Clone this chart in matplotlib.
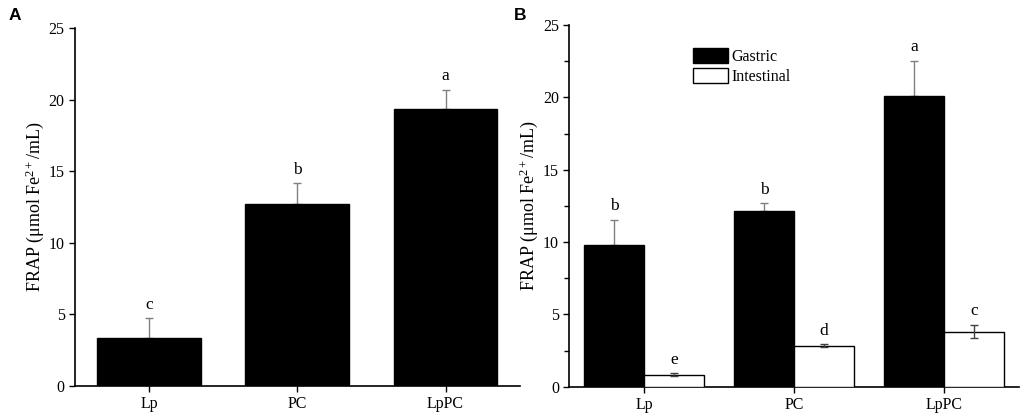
import numpy as np
import matplotlib.pyplot as plt
from matplotlib.patches import Patch
from matplotlib.ticker import MultipleLocator

plt.rcParams['font.family'] = ['Liberation Serif', 'DejaVu Serif']
plt.rcParams['mathtext.fontset'] = 'custom'
plt.rcParams['mathtext.rm'] = 'Liberation Serif'
plt.rcParams['mathtext.it'] = 'Liberation Serif:italic'

# data
groups = ['Lp', 'PC', 'LpPC']

a_values = [3.37, 12.73, 19.32]
a_errors = [1.35, 1.42, 1.37]
a_letters = ['c', 'b', 'a']

gastric = [9.79, 12.16, 20.09]
gastric_err = [1.73, 0.51, 2.42]
gastric_letters = ['b', 'b', 'a']

intestinal = [0.83, 2.83, 3.80]
intestinal_err = [0.09, 0.10, 0.46]
intestinal_letters = ['e', 'd', 'c']

ylabel = 'FRAP (μmol Fe$^{\\mathrm{2+}}$/mL)'

fig = plt.figure(figsize=(10.21, 4.16), dpi=100)
axA = fig.add_axes([0.0735, 0.0721, 0.4355, 0.8606])
axB = fig.add_axes([0.5576, 0.0704, 0.4404, 0.8695])

x = np.arange(1, len(groups) + 1)


def style(ax, minor):
    for s in ['top', 'right']:
        ax.spines[s].set_visible(False)
    for s in ['left', 'bottom']:
        ax.spines[s].set_linewidth(1.2)
    ax.set_xlim(0.5, 3.5)
    ax.set_ylim(0, 25)
    ax.set_xticks(x)
    ax.set_xticklabels(groups)
    ax.yaxis.set_major_locator(MultipleLocator(5))
    if minor:
        ax.yaxis.set_minor_locator(MultipleLocator(2.5))
        ax.tick_params(axis='y', which='minor', direction='out', length=3.5, width=1)
    ax.tick_params(axis='both', which='major', direction='out', length=4, width=1,
                   labelsize=11.5)
    ax.set_ylabel(ylabel, fontsize=13, labelpad=2)


# panel A
axA.bar(x, a_values, width=0.70, color='black', edgecolor='black', zorder=3)
axA.errorbar(x, a_values, yerr=[np.zeros(3), a_errors], fmt='none',
             ecolor='#808080', elinewidth=1, capsize=3, capthick=1, zorder=2)
for xi, v, e, t in zip(x, a_values, a_errors, a_letters):
    axA.annotate(t, (xi, v + e), xytext=(0, 7), textcoords='offset points',
                 ha='center', va='baseline', fontsize=12.5)
style(axA, minor=False)

# panel B
w = 0.40
axB.bar(x - w / 2, gastric, width=w, color='black', edgecolor='black',
        linewidth=1, zorder=3, label='Gastric')
axB.bar(x + w / 2, intestinal, width=w, color='white', edgecolor='black',
        linewidth=1, zorder=3, label='Intestinal')
axB.errorbar(x - w / 2, gastric, yerr=[np.zeros(3), gastric_err], fmt='none',
             ecolor='#808080', elinewidth=1, capsize=3, capthick=1, zorder=2)
axB.errorbar(x + w / 2, intestinal, yerr=intestinal_err, fmt='none',
             ecolor='#404040', elinewidth=1, capsize=3, capthick=1, zorder=4)
for xi, v, e, t in zip(x - w / 2, gastric, gastric_err, gastric_letters):
    axB.annotate(t, (xi, v + e), xytext=(0, 7), textcoords='offset points',
                 ha='center', va='baseline', fontsize=12.5)
for xi, v, e, t in zip(x + w / 2, intestinal, intestinal_err, intestinal_letters):
    axB.annotate(t, (xi, v + e), xytext=(0, 7), textcoords='offset points',
                 ha='center', va='baseline', fontsize=12.5)
style(axB, minor=True)

handles = [Patch(facecolor='black', edgecolor='black', label='Gastric'),
           Patch(facecolor='white', edgecolor='black', label='Intestinal')]
axB.legend(handles=handles, loc='upper left', bbox_to_anchor=(0.2745, 0.936),
           frameon=False, fontsize=11.5, handlelength=2.2, handleheight=1.06,
           handletextpad=0.25, labelspacing=0.17, borderpad=0, borderaxespad=0)

fig.text(0.008, 0.962, 'A', fontsize=12.5, fontweight='bold',
         family='Liberation Sans', va='center')
fig.text(0.503, 0.962, 'B', fontsize=12.5, fontweight='bold',
         family='Liberation Sans', va='center')

fig.savefig('out.png', dpi=100)
